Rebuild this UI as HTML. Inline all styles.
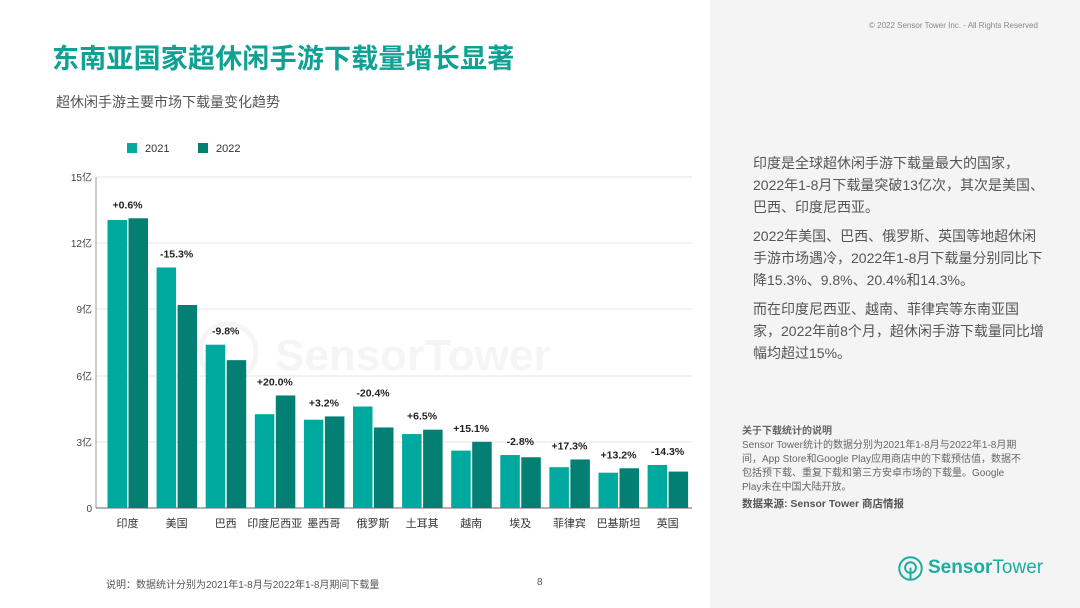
<!DOCTYPE html>
<html><head><meta charset="utf-8"><style>
*{margin:0;padding:0;box-sizing:border-box}
body{width:1080px;height:608px;background:#fff;position:relative;overflow:hidden;font-family:"Liberation Sans","Noto Sans CJK SC",sans-serif}
.right{position:absolute;left:710px;top:0;width:370px;height:608px;background:#f4f4f4}
.t{position:absolute;white-space:nowrap}
</style></head><body>
<div class="right"></div>
<div class="t" style="left:869px;top:21px;font-size:8px;color:#888">© 2022 Sensor Tower Inc. - All Rights Reserved</div>
<div class="t" style="left:52px;top:37px;font-size:27px;font-weight:bold;color:#0fa193;letter-spacing:0.2px">东南亚国家超休闲手游下载量增长显著</div>
<div class="t" style="left:56px;top:92px;font-size:14px;color:#555">超休闲手游主要市场下载量变化趋势</div>
<div class="t" style="left:753px;top:152px;font-size:14px;line-height:22px;color:#555">印度是全球超休闲手游下载量最大的国家，<br>2022年1-8月下载量突破13亿次，其次是美国、<br>巴西、印度尼西亚。</div>
<div class="t" style="left:753px;top:225px;font-size:14px;line-height:22px;color:#555">2022年美国、巴西、俄罗斯、英国等地超休闲<br>手游市场遇冷，2022年1-8月下载量分别同比下<br>降15.3%、9.8%、20.4%和14.3%。</div>
<div class="t" style="left:753px;top:298px;font-size:14px;line-height:22px;color:#555">而在印度尼西亚、越南、菲律宾等东南亚国<br>家，2022年前8个月，超休闲手游下载量同比增<br>幅均超过15%。</div>
<div class="t" style="left:742px;top:425px;font-size:10px;line-height:14px;color:#666"><b>关于下载统计的说明</b><br>Sensor Tower统计的数据分别为2021年1-8月与2022年1-8月期<br>间，App Store和Google Play应用商店中的下载预估值，数据不<br>包括预下载、重复下载和第三方安卓市场的下载量。Google<br>Play未在中国大陆开放。</div>
<div class="t" style="left:742px;top:496px;font-size:10.5px;font-weight:bold;color:#555">数据来源: Sensor Tower 商店情报</div>
<svg style="position:absolute;left:897px;top:555px" width="27" height="27" viewBox="0 0 30 30"><circle cx="15" cy="15" r="12.5" fill="none" stroke="#1aae9f" stroke-width="2.2"/><circle cx="15" cy="14" r="6" fill="none" stroke="#1aae9f" stroke-width="2.2"/><line x1="15" y1="14" x2="15" y2="27" stroke="#1aae9f" stroke-width="2.2"/></svg>
<div class="t" style="left:928px;top:557px;font-size:19px;color:#1aae9f"><b>Sensor</b>Tower</div>
<div class="t" style="left:106px;top:576px;font-size:10px;color:#555">说明：数据统计分别为2021年1-8月与2022年1-8月期间下载量</div>
<div class="t" style="left:537px;top:577px;font-size:10px;color:#555">8</div>
<svg style="position:absolute;left:0;top:0" width="710" height="608" font-family="Liberation Sans, Noto Sans CJK SC, sans-serif">
<rect x="127" y="143" width="10" height="10" fill="#00a99d"/><text x="145" y="152" font-size="11" fill="#333">2021</text>
<rect x="198" y="143" width="10" height="10" fill="#037f73"/><text x="216" y="152" font-size="11" fill="#333">2022</text>
<text x="275" y="370" font-size="44" font-weight="bold" fill="#f5f5f5">SensorTower</text>
<circle cx="228" cy="352" r="28" fill="none" stroke="#f5f5f5" stroke-width="5"/>
<g stroke="#e4e4e4" stroke-width="1">
<line x1="96" y1="177" x2="692" y2="177"/><line x1="96" y1="243" x2="692" y2="243"/><line x1="96" y1="309" x2="692" y2="309"/><line x1="96" y1="376" x2="692" y2="376"/><line x1="96" y1="442" x2="692" y2="442"/>
</g>
<line x1="96" y1="177" x2="96" y2="508" stroke="#999"/>
<line x1="96" y1="508" x2="692" y2="508" stroke="#666"/>
<g font-size="10" fill="#444" text-anchor="end">
<text x="92" y="181">15亿</text><text x="92" y="247">12亿</text><text x="92" y="313">9亿</text><text x="92" y="380">6亿</text><text x="92" y="446">3亿</text><text x="92" y="512">0</text>
</g>
<g id="bars"></g>
</svg>
<script>
const d=[["印度",13.05,13.13,"+0.6%"],["美国",10.9,9.2,"-15.3%"],["巴西",7.4,6.7,"-9.8%"],["印度尼西亚",4.25,5.1,"+20.0%"],["墨西哥",4.0,4.15,"+3.2%"],["俄罗斯",4.6,3.65,"-20.4%"],["土耳其",3.35,3.55,"+6.5%"],["越南",2.6,3.0,"+15.1%"],["埃及",2.4,2.3,"-2.8%"],["菲律宾",1.85,2.2,"+17.3%"],["巴基斯坦",1.6,1.8,"+13.2%"],["英国",1.95,1.65,"-14.3%"]];
let s="";const k=331/15;
d.forEach((r,i)=>{const c=127.5+i*49.1;const h1=r[1]*k,h2=r[2]*k;
s+=`<rect x="${c-20}" y="${508-h1}" width="19.5" height="${h1}" fill="#00a99d"/><rect x="${c+1}" y="${508-h2}" width="19.5" height="${h2}" fill="#037f73"/>`;
const top=508-Math.max(h1,h2);
s+=`<text x="${c}" y="${top-10}" font-size="10.5" font-weight="bold" text-anchor="middle" fill="#222">${r[3]}</text>`;
s+=`<text x="${c}" y="527" font-size="11" text-anchor="middle" fill="#333">${r[0]}</text>`;});
document.getElementById("bars").innerHTML=s;
</script>
</body></html>
